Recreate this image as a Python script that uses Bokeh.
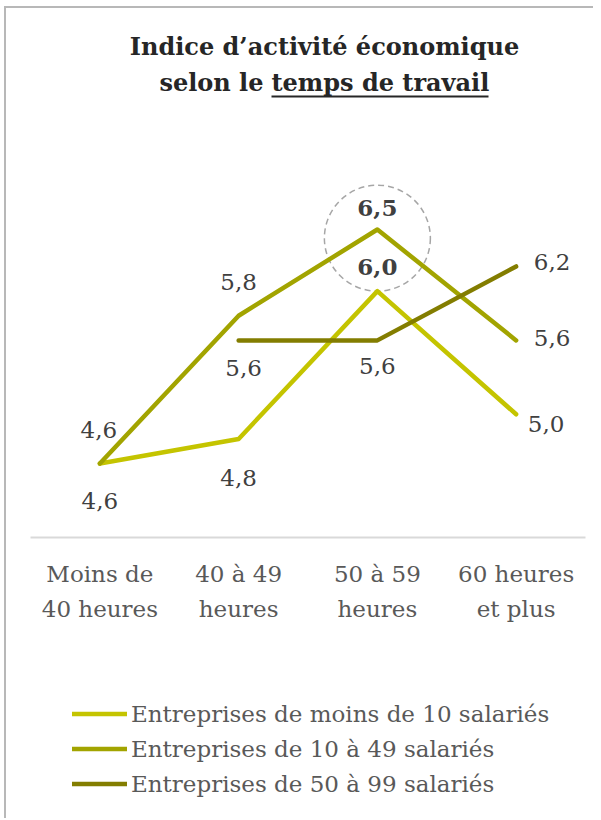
from bokeh.plotting import figure
from bokeh.layouts import column
from bokeh.models import (FactorRange, Range1d, ColumnDataSource, Label,
                          BoxAnnotation, Legend, LegendItem)
from bokeh.core.properties import value, field
from bokeh.embed import file_html
from bokeh.resources import INLINE

# ---------------- data ----------------
title_line1 = "Indice d’activité économique"
title_line2_plain = "selon le"
title_line2_under = "temps de travail"

categories = ["Moins de\n40 heures", "40 à 49\nheures", "50 à 59\nheures", "60 heures\net plus"]

series_names = [
    "Entreprises de moins de 10 salariés",
    "Entreprises de 10 à 49 salariés",
    "Entreprises de 50 à 99 salariés",
]
values_moins_10 = [4.6, 4.8, 6.0, 5.0]
values_10_49 = [4.6, 5.8, 6.5, 5.6]
values_50_99 = [None, 5.6, 5.6, 6.2]

# ---------------- styles ----------------
colors = ["#c4c400", "#a2a400", "#837d00"]
# label offsets (dx, dy in px) per point, and bold flags
label_offsets = [
    [(0, 37), (0, 39), (0, -24), (30, 10)],
    [(-1, -34), (0, -34), (0, -22), (36, -2)],
    [None, (5, 28), (0, 26), (36, -4)],
]
label_bold = [
    [False, False, True, False],
    [False, False, True, False],
    [False, False, False, False],
]

FONT = "DejaVu Serif"
W = 587
H_MAIN = 624
H_LEG = 186

all_series = [values_moins_10, values_10_49, values_50_99]


def series_xy(vals):
    xs = [c for c, v in zip(categories, vals) if v is not None]
    ys = [v for v in vals if v is not None]
    return xs, ys


p = figure(width=W, height=H_MAIN,
           x_range=FactorRange(factors=categories, range_padding=0),
           y_range=Range1d(4.0, 8.294),
           output_backend="svg", toolbar_location=None,
           y_axis_location=None,
           min_border_left=24, min_border_right=8,
           min_border_top=0, min_border_bottom=H_MAIN - 529)
p.outline_line_color = None
p.xgrid.visible = False
p.ygrid.visible = False
p.background_fill_color = "white"
p.border_fill_color = "white"

ax = p.xaxis[0]
ax.axis_line_color = "#d9d9d9"
ax.axis_line_width = 2
ax.major_tick_line_color = None
ax.minor_tick_line_color = None
ax.major_tick_out = 0
ax.major_tick_in = 0
ax.major_label_standoff = 23
ax.major_label_text_font = FONT
ax.major_label_text_font_size = "23px"
ax.major_label_text_color = "#595959"
ax.major_label_text_line_height = 1.35

# highlight circle around the peak labels
peak_cat = categories[2]
p.scatter(x=[peak_cat], y=[values_10_49[2] - 0.07], size=106, marker="circle",
          fill_color=None, line_color="#a6a6a6", line_width=1.5, line_dash="6 4")

for i, vals in enumerate(all_series):
    xs, ys = series_xy(vals)
    p.line(x=xs, y=ys, line_color=colors[i], line_width=4.5,
           line_cap="round", line_join="round")

for i, vals in enumerate(all_series):
    data = dict(x=[], y=[], text=[], dx=[], dy=[], style=[])
    for j, (c, v) in enumerate(zip(categories, vals)):
        if v is None:
            continue
        data["x"].append(c)
        data["y"].append(v)
        data["text"].append(f"{v:.1f}".replace(".", ","))
        dx, dy = label_offsets[i][j]
        data["dx"].append(dx)
        data["dy"].append(dy)
        data["style"].append("bold" if label_bold[i][j] else "normal")
    src = ColumnDataSource(data)
    p.text(x="x", y="y", text="text", x_offset="dx", y_offset="dy", source=src,
           text_align="center", text_baseline="middle",
           text_font=value(FONT), text_font_size="23px",
           text_color="#404040", text_font_style=field("style"))

# title (screen units relative to the frame)
title_kw = dict(x_units="screen", y_units="screen", text_baseline="alphabetic",
                text_font=FONT, text_font_size="24px", text_font_style="bold",
                text_color="#262626")
p.add_layout(Label(x=294, y=491, text=title_line1, text_align="center", **title_kw))
p.add_layout(Label(x=233, y=455, text=title_line2_plain, text_align="right", **title_kw))
p.add_layout(Label(x=241, y=455, text=title_line2_under, text_align="left", **title_kw))
p.add_layout(BoxAnnotation(left=241, right=458, top=442, bottom=440,
                           left_units="screen", right_units="screen",
                           top_units="screen", bottom_units="screen",
                           fill_color="#262626", fill_alpha=1, line_color=None))

# legend panel: same series, drawn outside this panel's visible range,
# so that only their legend entries show
pl = figure(width=W, height=H_LEG,
            x_range=FactorRange(factors=categories, range_padding=0),
            y_range=Range1d(0, 1),
            output_backend="svg", toolbar_location=None,
            x_axis_location=None, y_axis_location=None,
            min_border_left=0, min_border_right=0, min_border_top=0, min_border_bottom=0)
pl.outline_line_color = None
pl.xgrid.visible = False
pl.ygrid.visible = False
leg_renderers = []
for i, vals in enumerate(all_series):
    xs, ys = series_xy(vals)
    leg_renderers.append(pl.line(x=xs, y=ys, line_color=colors[i], line_width=4.5,
                                 line_cap="round"))
legend = Legend(items=[LegendItem(label=n, renderers=[r]) for n, r in zip(series_names, leg_renderers)],
                location=(42, 17), orientation="vertical",
                border_line_color=None, background_fill_alpha=0,
                glyph_width=55, glyph_height=35, label_height=35, spacing=0,
                padding=0, margin=0, label_standoff=4,
                label_text_font=FONT, label_text_font_size="23px",
                label_text_color="#595959")
pl.add_layout(legend, "center")

layout = column(p, pl, spacing=0,
                styles={"border-left": "2px solid #b8b8b8", "border-top": "2px solid #b8b8b8",
                        "margin-left": "4px", "margin-top": "6px"})

open("out.html", "w").write(file_html(layout, INLINE))
